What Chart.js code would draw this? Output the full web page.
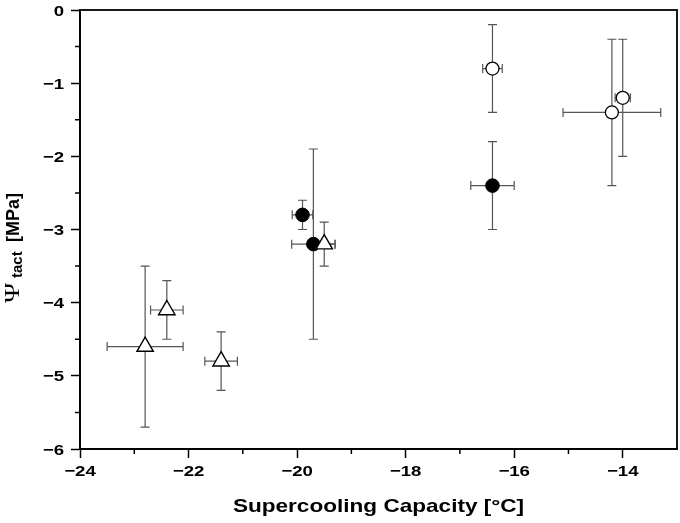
<!DOCTYPE html>
<html>
<head>
<meta charset="utf-8">
<script src="https://cdn.jsdelivr.net/npm/chart.js@4/dist/chart.umd.min.js"></script>
<style>
  html, body { margin: 0; padding: 0; background: #fff; }
  canvas { display: block; }
</style>
</head>
<body>
<canvas id="chart" width="680" height="523"></canvas>
<script>
// ===== Data =====

// open triangles
const triX = [-22.8, -22.4, -21.4, -19.5];
const triY = [-4.6, -4.1, -4.8, -3.2];
const triXErr = [0.7, 0.3, 0.3, 0.2];
const triYErr = [1.1, 0.4, 0.4, 0.3];

// filled circles
const filledX = [-19.9, -19.7, -16.4];
const filledY = [-2.8, -3.2, -2.4];
const filledXErr = [0.19, 0.4, 0.4];
const filledYErr = [0.2, 1.3, 0.6];

// open circles
const openX = [-16.4, -14.2, -14.0];
const openY = [-0.8, -1.4, -1.2];
const openXErr = [0.18, 0.9, 0.14];
const openYErr = [0.6, 1.0, 0.8];

// axes
const xMin = -24, xMax = -13, xStep = 2;
const yMin = -6, yMax = 0, yStep = 1;
const xMinorTicks = [-23, -21, -19, -17, -15];
const yMinorTicks = [-5.5, -4.5, -3.5, -2.5, -1.5, -0.5];

const xTitle = 'Supercooling Capacity [°C]';
const yTitleSymbol = 'Ψ';
const yTitleSub = 'tact';
const yTitleUnit = '[MPa]';

const SANS = '"Liberation Sans", Arial, sans-serif';
const STRETCH = 1.2; // the original text is drawn a little wide

function toPoints(xs, ys, xe, ye) {
    return xs.map((x, i) => ({ x: x, y: ys[i], xErr: xe[i], yErr: ye[i] }));
}

function minusLabel(v) {
    return v === 0 ? '0' : (v < 0 ? '\u2212' + Math.abs(v) : String(v));
}

// wide text helper
function wideText(ctx, text, x, y, sx) {
    ctx.save();
    ctx.translate(x, y);
    ctx.scale(sx, 1);
    ctx.fillText(text, 0, 0);
    ctx.restore();
}

// error bars, drawn under the markers
const errorBars = {
    id: 'errorBars',
    beforeDatasetsDraw(chart) {
        const ctx = chart.ctx;
        const xs = chart.scales.x, ys = chart.scales.y;
        const cap = 4.5;
        ctx.save();
        ctx.strokeStyle = '#555';
        ctx.lineWidth = 1.2;
        chart.data.datasets.forEach(ds => {
            ds.data.forEach(p => {
                const cx = xs.getPixelForValue(p.x), cy = ys.getPixelForValue(p.y);
                const x1 = xs.getPixelForValue(p.x - p.xErr), x2 = xs.getPixelForValue(p.x + p.xErr);
                const y1 = ys.getPixelForValue(p.y + p.yErr), y2 = ys.getPixelForValue(p.y - p.yErr);
                ctx.beginPath();
                ctx.moveTo(x1, cy); ctx.lineTo(x2, cy);
                ctx.moveTo(x1, cy - cap); ctx.lineTo(x1, cy + cap);
                ctx.moveTo(x2, cy - cap); ctx.lineTo(x2, cy + cap);
                ctx.moveTo(cx, y1); ctx.lineTo(cx, y2);
                ctx.moveTo(cx - cap, y1); ctx.lineTo(cx + cap, y1);
                ctx.moveTo(cx - cap, y2); ctx.lineTo(cx + cap, y2);
                ctx.stroke();
            });
        });
        ctx.restore();
    }
};

// frame, minor ticks, tick labels and axis titles
const frame = {
    id: 'frame',
    afterDraw(chart) {
        const ctx = chart.ctx;
        const a = chart.chartArea;
        const xs = chart.scales.x, ys = chart.scales.y;
        ctx.save();
        ctx.strokeStyle = '#000';
        ctx.lineWidth = 1.8;
        ctx.strokeRect(a.left, a.top, a.right - a.left, a.bottom - a.top);

        ctx.lineWidth = 1.5;
        ctx.beginPath();
        xMinorTicks.forEach(v => {
            const px = xs.getPixelForValue(v);
            ctx.moveTo(px, a.bottom); ctx.lineTo(px, a.bottom + 5);
        });
        yMinorTicks.forEach(v => {
            const py = ys.getPixelForValue(v);
            ctx.moveTo(a.left, py); ctx.lineTo(a.left - 5, py);
        });
        ctx.stroke();

        // tick labels from the scales' own ticks
        ctx.fillStyle = '#000';
        ctx.font = 'bold 15.5px ' + SANS;
        ctx.textBaseline = 'alphabetic';
        ctx.textAlign = 'center';
        xs.ticks.forEach(t => {
            wideText(ctx, minusLabel(t.value), xs.getPixelForValue(t.value), a.bottom + 27, STRETCH);
        });
        ctx.textAlign = 'right';
        ys.ticks.forEach(t => {
            wideText(ctx, minusLabel(t.value), a.left - 16, ys.getPixelForValue(t.value) + 5.6, STRETCH);
        });

        // x title
        ctx.font = 'bold 18.5px ' + SANS;
        ctx.textAlign = 'center';
        wideText(ctx, xTitle, (a.left + a.right) / 2, 512, 1.22);

        // y title, rotated, with subscript
        ctx.translate(18.5, 303);
        ctx.rotate(-Math.PI / 2);
        ctx.textAlign = 'left';
        ctx.font = '21px "Liberation Serif", "DejaVu Serif", serif';
        wideText(ctx, yTitleSymbol, 0, 0, 1.3);
        ctx.font = 'bold 15px ' + SANS;
        ctx.fillText(yTitleSub, 25, 3);
        ctx.font = 'bold 18px ' + SANS;
        ctx.fillText(yTitleUnit, 61, 0);
        ctx.restore();
    }
};

const axisCommon = {
    grid: { display: true, drawOnChartArea: false, drawTicks: true, tickLength: 9, tickWidth: 1.5, tickColor: '#000' },
    border: { display: true, color: '#000', width: 1.8 }
};

// stop the scales from reserving room for overflowing tick labels
function noPad(scale) {
    scale.paddingTop = 0;
    scale.paddingBottom = 0;
    scale.paddingLeft = 0;
    scale.paddingRight = 0;
}

new Chart(document.getElementById('chart'), {
    type: 'scatter',
    data: {
        datasets: [
            {
                label: 'triangles',
                data: toPoints(triX, triY, triXErr, triYErr),
                pointStyle: 'triangle',
                pointRadius: 9.5,
                pointHoverRadius: 9.5,
                backgroundColor: '#fff',
                borderColor: '#000',
                borderWidth: 1.4
            },
            {
                label: 'filled',
                data: toPoints(filledX, filledY, filledXErr, filledYErr),
                pointStyle: 'circle',
                pointRadius: 6.8,
                pointHoverRadius: 6.8,
                backgroundColor: '#000',
                borderColor: '#000',
                borderWidth: 1
            },
            {
                label: 'open',
                data: toPoints(openX, openY, openXErr, openYErr),
                pointStyle: 'circle',
                pointRadius: 6.5,
                pointHoverRadius: 6.5,
                backgroundColor: '#fff',
                borderColor: '#000',
                borderWidth: 1.3
            }
        ]
    },
    options: {
        responsive: false,
        animation: false,
        events: [],
        layout: { autoPadding: false, padding: { left: 0, top: 10, right: 3, bottom: 0 } },
        plugins: { legend: { display: false }, tooltip: { enabled: false } },
        scales: {
            x: {
                ...axisCommon,
                type: 'linear',
                min: xMin, max: xMax,
                ticks: { display: false, stepSize: xStep, includeBounds: false },
                afterFit(scale) { scale.height = 74; noPad(scale); }
            },
            y: {
                ...axisCommon,
                type: 'linear',
                min: yMin, max: yMax,
                ticks: { display: false, stepSize: yStep },
                afterFit(scale) { scale.width = 80; noPad(scale); }
            }
        }
    },
    plugins: [errorBars, frame]
});
</script>
</body>
</html>
